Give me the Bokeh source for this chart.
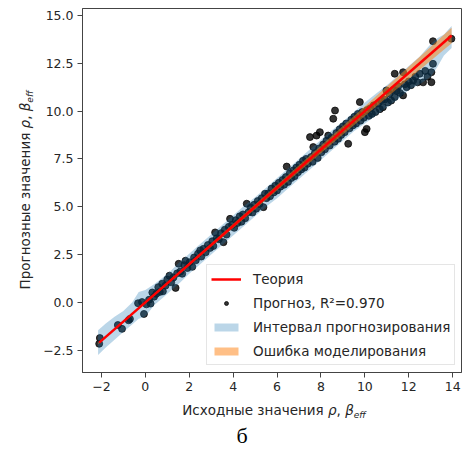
from bokeh.plotting import figure
from bokeh.models import Legend, LegendItem, FixedTicker, Div
from bokeh.layouts import row, column
from bokeh.embed import file_html
from bokeh.resources import INLINE

# ---- data ----
source_vals = [
    -2.10, -2.07, -1.25, -1.06, -0.76, -0.70, -0.33, -0.15, -0.06, 0.05, 0.17, 0.24,
    0.32, 0.40, 0.50, 0.59, 0.66, 0.77, 0.80, 0.92, 1.00, 1.10, 1.18, 1.28, 1.38, 1.45,
    1.52, 1.60, 1.68, 1.78, 1.83, 1.92, 2.02, 2.14, 2.22, 2.30, 2.40, 2.50, 2.55, 2.65,
    2.75, 2.85, 2.95, 3.05, 3.10, 3.18, 3.25, 3.35, 3.45, 3.56, 3.62, 3.70, 3.80, 3.86,
    3.95, 4.05, 4.12, 4.20, 4.30, 4.38, 4.45, 4.55, 4.62, 4.70, 4.80, 4.88, 4.95, 5.05,
    5.12, 5.20, 5.30, 5.38, 5.45, 5.52, 5.60, 5.68, 5.75, 5.85, 5.92, 6.00, 6.08, 6.15,
    6.25, 6.32, 6.40, 6.44, 6.50, 6.58, 6.65, 6.74, 6.80, 6.88, 6.95, 7.02, 7.10, 7.18,
    7.25, 7.32, 7.40, 7.50, 7.55, 7.62, 7.65, 7.72, 7.80, 7.85, 7.92, 7.95, 8.02, 8.10,
    8.18, 8.25, 8.33, 8.40, 8.48, 8.56, 8.64, 8.62, 8.70, 8.78, 8.85, 8.92, 9.00, 9.08,
    9.15, 9.24, 9.30, 9.38, 9.45, 9.52, 9.60, 9.68, 9.77, 9.80, 9.88, 9.95, 10.00, 10.08,
    10.10, 10.18, 10.25, 10.32, 10.40, 10.48, 10.60, 10.68, 10.75, 10.82, 10.90, 10.98,
    11.05, 11.12, 11.20, 11.28, 11.36, 11.36, 11.45, 11.52, 11.60, 11.74, 11.74, 11.82,
    11.90, 12.00, 12.10, 12.20, 12.30, 12.40, 12.50, 12.65, 12.75, 12.85, 13.03, 13.03,
    13.10, 13.10, 13.94,
]
pred_vals = [
    -2.16, -1.86, -1.18, -1.38, -0.93, -0.86, -0.04, 0.02, -0.60, -0.10, 0.14, -0.06,
    0.52, 0.30, 0.45, 0.80, 0.55, 0.98, 0.58, 0.88, 1.20, 1.40, 1.05, 1.30, 0.76, 1.52,
    2.02, 1.62, 1.50, 1.95, 2.18, 1.80, 2.10, 1.86, 2.35, 2.20, 2.55, 2.72, 2.40, 2.80,
    2.62, 3.00, 2.85, 3.20, 2.95, 3.66, 3.35, 3.30, 3.62, 3.15, 3.80, 3.55, 3.95, 4.37,
    4.05, 3.90, 4.30, 4.15, 4.50, 4.22, 4.60, 4.40, 5.16, 4.72, 4.95, 4.70, 5.10, 4.90,
    5.30, 5.15, 5.45, 4.98, 5.68, 5.45, 5.70, 5.55, 5.95, 5.75, 6.10, 5.85, 6.25, 6.05,
    6.40, 6.15, 6.55, 7.10, 6.30, 6.75, 6.50, 6.90, 6.60, 7.05, 6.80, 7.20, 6.95, 7.40,
    7.05, 7.50, 7.25, 8.64, 7.60, 7.35, 8.12, 7.80, 8.72, 7.55, 8.05, 8.90, 7.85, 8.25,
    8.00, 8.45, 8.72, 8.20, 8.60, 9.60, 10.03, 8.40, 8.85, 8.55, 9.05, 8.75, 9.20, 8.90,
    9.35, 8.29, 9.10, 9.55, 9.25, 9.70, 9.35, 9.85, 10.47, 9.50, 9.95, 9.65, 8.90, 9.07,
    10.05, 9.75, 10.15, 9.85, 10.30, 9.95, 10.40, 10.10, 10.55, 10.20, 10.60, 11.08,
    10.45, 10.90, 10.55, 11.10, 11.95, 10.73, 11.05, 11.30, 10.95, 12.03, 10.82, 11.40,
    11.25, 11.55, 11.35, 11.60, 11.80, 11.50, 11.95, 11.50, 12.10, 11.80, 11.51, 12.03,
    12.47, 13.65, 13.78,
]

band_x = [-2.15, -1.8, -1.4, -1.0, -0.6, -0.3, 0.0, 0.4, 0.8, 1.2, 1.6, 2.0, 2.5, 3.0,
          3.5, 4.0, 4.5, 5.0, 5.5, 6.0, 6.5, 7.0, 7.5, 8.0, 8.5, 9.0, 9.5, 10.0, 10.5,
          11.0, 11.5, 12.0, 12.5, 13.0, 13.3, 13.6, 13.95]
band_lo = [-2.75, -2.35, -1.95, -1.55, -1.15, -0.85, -0.75, -0.15, 0.25, 0.65, 1.05,
           1.50, 2.00, 2.50, 3.00, 3.50, 4.00, 4.50, 5.00, 5.45, 5.95, 6.45, 6.95, 7.45,
           7.95, 8.45, 8.95, 9.35, 9.75, 10.20, 10.60, 11.10, 11.40, 11.80, 12.30, 12.90,
           13.30]
band_hi = [-1.45, -1.10, -0.75, -0.45, 0.00, 0.55, 0.65, 0.95, 1.30, 1.70, 2.15, 2.55,
           3.05, 3.55, 4.05, 4.55, 5.05, 5.50, 6.00, 6.50, 7.00, 7.50, 8.00, 8.50, 9.00,
           9.45, 9.95, 10.45, 10.90, 11.35, 11.85, 12.35, 12.85, 13.50, 13.80, 14.00, 14.45]

err_x = [-2.15, 2.0, 6.0, 9.0, 12.0, 13.95]
err_lo = [-2.18, 1.92, 5.85, 8.78, 11.68, 13.55]
err_hi = [-2.12, 2.08, 6.15, 9.22, 12.32, 14.35]

theory_x = [-2.1, 13.95]
theory_y = [-2.1, 13.95]

x_ticks = [-2, 0, 2, 4, 6, 8, 10, 12, 14]
x_tick_labels = ["\u22122", "0", "2", "4", "6", "8", "10", "12", "14"]
y_ticks = [-2.5, 0.0, 2.5, 5.0, 7.5, 10.0, 12.5, 15.0]
y_tick_labels = ["\u22122.5", "0.0", "2.5", "5.0", "7.5", "10.0", "12.5", "15.0"]

x_title = "Исходные значения"
y_title = "Прогнозные значения"
caption = "б"

FONT = "DejaVu Sans"
TXT = "#262626"

p = figure(width=422, height=400, x_range=(-2.86, 14.4), y_range=(-3.66, 15.36),
           output_backend="svg", toolbar_location=None, title=None,
           min_border_left=42, min_border_right=1, min_border_top=8, min_border_bottom=28,
           margin=0)
p.xgrid.visible = False
p.ygrid.visible = False
p.outline_line_color = "#444444"
p.outline_line_width = 1
p.background_fill_color = "white"
p.border_fill_color = "white"

for ax, ticks, labels in ((p.xaxis, x_ticks, x_tick_labels), (p.yaxis, y_ticks, y_tick_labels)):
    ax.ticker = FixedTicker(ticks=ticks)
    ax.major_label_overrides = {t: l for t, l in zip(ticks, labels)}
    ax.major_tick_out = 5
    ax.major_tick_in = 0
    ax.minor_tick_out = 0
    ax.minor_tick_in = 0
    ax.major_tick_line_color = "#444444"
    ax.axis_line_color = "#444444"
    ax.major_label_text_font = FONT
    ax.major_label_text_font_size = "12.5px"
    ax.major_label_text_color = TXT
    ax.major_label_standoff = 4

sc = p.scatter(source_vals, pred_vals, size=7, fill_color="black", fill_alpha=0.8,
               line_color="black", line_alpha=0.9, line_width=0.8)
band = p.varea(x=band_x, y1=band_lo, y2=band_hi, fill_color="#1f77b4", fill_alpha=0.3)
err = p.varea(x=err_x, y1=err_lo, y2=err_hi, fill_color="#ff7f0e", fill_alpha=0.5)
th = p.line(theory_x, theory_y, line_color="red", line_width=2.5)

legend = Legend(items=[
    LegendItem(label="Теория", renderers=[th]),
    LegendItem(label="Прогноз, R²=0.970", renderers=[sc]),
    LegendItem(label="Интервал прогнозирования", renderers=[band]),
    LegendItem(label="Ошибка моделирования", renderers=[err]),
], location=(124, 7))
legend.label_text_font = FONT
legend.label_text_font_size = "13.5px"
legend.label_text_color = TXT
legend.glyph_width = 30
legend.glyph_height = 10
legend.label_height = 19
legend.spacing = 5
legend.padding = 4
legend.margin = 0
legend.label_standoff = 12
legend.border_line_color = "#cccccc"
legend.background_fill_alpha = 0.8
p.add_layout(legend, "center")

label_html = ("{t} <i>ρ</i>, <i>β</i><sub style=\"font-size:9px;vertical-align:-3px\">"
              "<i>eff</i></sub>")

ydiv = Div(width=40, height=400, margin=0, text=(
    '<div style="position:relative;width:40px;height:400px;">'
    f'<div style="position:absolute;left:-165px;top:182px;width:380px;height:16px;'
    f'line-height:16px;text-align:center;transform:rotate(-90deg);white-space:nowrap;'
    f'font-family:\'{FONT}\';font-size:13.5px;color:{TXT};">'
    + label_html.format(t=y_title) + '</div></div>'))

bdiv = Div(width=462, height=51, margin=0, text=(
    '<div style="position:relative;width:462px;height:51px;">'
    f'<div style="position:absolute;left:74px;top:2px;width:400px;height:16px;'
    f'line-height:16px;text-align:center;white-space:nowrap;'
    f'font-family:\'{FONT}\';font-size:13.5px;color:{TXT};">'
    + label_html.format(t=x_title) + '</div>'
    '<div style="position:absolute;left:217px;top:23px;width:50px;height:26px;'
    'line-height:26px;text-align:center;font-family:\'Liberation Serif\';'
    f'font-size:22px;color:black;">{caption}</div></div>'))

layout = column(row(ydiv, p, spacing=0, margin=0), bdiv, spacing=0, margin=0)

open("out.html", "w").write(file_html(layout, INLINE))
